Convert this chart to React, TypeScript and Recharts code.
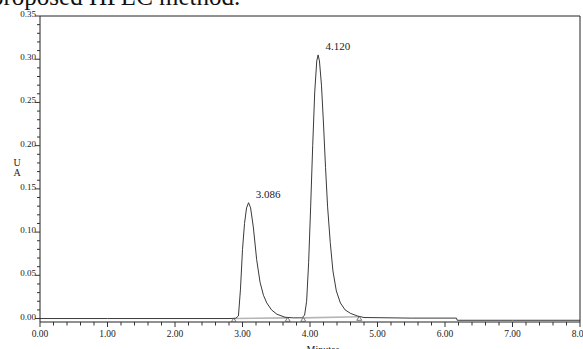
import React from 'react';
import { ComposedChart, Line, Scatter, XAxis, YAxis, ReferenceLine } from 'recharts';

// detector trace, time in minutes, absorbance in AU
const signalTime = [0, 1, 2, 2.8, 2.9, 2.94, 2.97, 3.0, 3.03, 3.06, 3.09, 3.12, 3.16, 3.21, 3.26, 3.31, 3.36, 3.43, 3.51, 3.63, 3.75, 3.88, 3.92, 3.95, 3.98, 4.01, 4.04, 4.07, 4.1, 4.12, 4.14, 4.17, 4.2, 4.23, 4.26, 4.3, 4.34, 4.39, 4.45, 4.52, 4.6, 4.7, 4.8, 5.5, 6.17, 6.18, 7, 8];
const signalAU = [0, 0, 0, 0, 0.0003, 0.003, 0.034, 0.08, 0.11, 0.128, 0.134, 0.128, 0.106, 0.068, 0.042, 0.027, 0.018, 0.01, 0.005, 0.0015, 0.0008, 0.0008, 0.004, 0.02, 0.065, 0.13, 0.2, 0.262, 0.298, 0.305, 0.298, 0.27, 0.225, 0.175, 0.13, 0.088, 0.055, 0.032, 0.018, 0.01, 0.006, 0.003, 0.0012, 0.0005, 0.0005, -0.002, -0.002, -0.002];

// integration baselines (start, end) per peak
const baseTime = [2.87, 3.67, null, 3.9, 4.73];
const baseAU = [0, 0.0008, null, 0.0008, 0.002];

const markerTime = [2.87, 3.67, 3.9, 4.73];
const markerAU = [0, 0.0008, 0.0008, 0.002];

const peakTime = [3.086, 4.12];
const peakAU = [0.134, 0.305];
const peakLabels = ['3.086', '4.120'];

const yMajor = [0, 0.05, 0.1, 0.15, 0.2, 0.25, 0.3, 0.35];
const yLabels = ['0.00', '0.05', '0.10', '0.15', '0.20', '0.25', '0.30', '0.35'];
const xMajor = [0, 1, 2, 3, 4, 5, 6, 7, 8];
const xLabels = ['0.00', '1.00', '2.00', '3.00', '4.00', '5.00', '6.00', '7.00', '8.00'];

const FONT = '"Liberation Serif", "DejaVu Serif", serif';

const signal = signalTime.map((t, i) => ({ t, v: signalAU[i] }));
const baselines = baseTime.map((t, i) => ({ t, v: baseAU[i] }));
const markers = markerTime.map((t, i) => ({ t, v: markerAU[i] }));
const peaks = peakTime.map((t, i) => ({ t, v: peakAU[i], label: peakLabels[i] }));

// minor ticks: 5 per 0.05 on y, 5 per minute on x
const yTicks: number[] = [];
yMajor.forEach((v, i) => {
  yTicks.push(v);
  if (i < yMajor.length - 1) for (let k = 1; k < 5; k++) yTicks.push(+(v + k * 0.01).toFixed(3));
});
const xTicks: number[] = [];
xMajor.forEach((v, i) => {
  xTicks.push(v);
  if (i < xMajor.length - 1) for (let k = 1; k < 5; k++) xTicks.push(+(v + k * 0.2).toFixed(2));
});

const YTick = (props: any) => {
  const { x, y, payload } = props;
  const idx = yMajor.findIndex((m) => Math.abs(m - payload.value) < 1e-6);
  const major = idx >= 0;
  return (
    <g>
      <line x1={x - (major ? 5 : 3)} x2={x} y1={y} y2={y} stroke="#333" strokeWidth={1} />
      {major && (
        <text x={x - 4} y={y + 1} textAnchor="end" fontFamily={FONT} fontSize={9} fill="#222">
          {yLabels[idx]}
        </text>
      )}
    </g>
  );
};

const XTick = (props: any) => {
  const { x, y, payload } = props;
  const idx = xMajor.findIndex((m) => Math.abs(m - payload.value) < 1e-6);
  const major = idx >= 0;
  return (
    <g>
      <line x1={x} x2={x} y1={y} y2={y + (major ? 5 : 3.5)} stroke="#333" strokeWidth={1} />
      {major && (
        <text x={x} y={y + 15} textAnchor="middle" fontFamily={FONT} fontSize={9.5} fill="#222">
          {xLabels[idx]}
        </text>
      )}
    </g>
  );
};

const Marker = (props: any) => {
  const { cx, cy } = props;
  return <polygon points={`${cx - 2.5},${cy + 3.5} ${cx + 2.5},${cy + 3.5} ${cx},${cy - 0.5}`} fill="none" stroke="#555" strokeWidth={0.8} />;
};

const PeakLabel = (props: any) => {
  const { cx, cy, payload } = props;
  return (
    <text x={cx + 7.5} y={cy - 4.5} fontFamily={FONT} fontSize={11} fill="#1a1a2e">
      {payload.label}
    </text>
  );
};

export default function App() {
  return (
    <div style={{ position: 'absolute', left: 0, top: 0, width: 583, height: 349, overflow: 'hidden', background: '#fff' }}>
      <ComposedChart width={583} height={349} margin={{ top: 16, right: 3, bottom: 0, left: 0 }}>
        <XAxis
          dataKey="t"
          type="number"
          domain={[0, 8]}
          allowDataOverflow
          ticks={xTicks}
          interval={0}
          tick={<XTick />}
          tickLine={false}
          tickSize={0}
          tickMargin={0}
          height={27}
          axisLine={{ stroke: '#222' }}
        />
        <YAxis
          dataKey="v"
          type="number"
          domain={[-0.004, 0.35]}
          allowDataOverflow
          ticks={yTicks}
          interval={0}
          tick={<YTick />}
          tickLine={false}
          tickSize={0}
          tickMargin={0}
          width={40}
          axisLine={{ stroke: '#222' }}
        />
        <ReferenceLine y={0.35} stroke="#222" strokeWidth={1} ifOverflow="visible" />
        <ReferenceLine x={8} stroke="#222" strokeWidth={1} ifOverflow="visible" />
        <Line data={baselines} dataKey="v" stroke="#b5b5b5" strokeWidth={1.6} dot={false} connectNulls={false} isAnimationActive={false} />
        <Line data={signal} dataKey="v" type="linear" stroke="#3a3a3a" strokeWidth={1} dot={false} isAnimationActive={false} />
        <Scatter data={markers} dataKey="v" shape={<Marker />} isAnimationActive={false} />
        <Scatter data={peaks} dataKey="v" shape={<PeakLabel />} isAnimationActive={false} />
      </ComposedChart>
      <svg width={583} height={349} style={{ position: 'absolute', left: 0, top: 0, pointerEvents: 'none' }}>
        <text x={-9} y={5} fontFamily={FONT} fontSize={25} fill="#111">proposed HPLC method.</text>
        <text x={17} y={166} textAnchor="middle" fontFamily={FONT} fontSize={10} fill="#222">U</text>
        <text x={17} y={176} textAnchor="middle" fontFamily={FONT} fontSize={10} fill="#222">A</text>
        <text x={323} y={353} textAnchor="middle" fontFamily={FONT} fontSize={10} fill="#222">Minutes</text>
      </svg>
    </div>
  );
}
